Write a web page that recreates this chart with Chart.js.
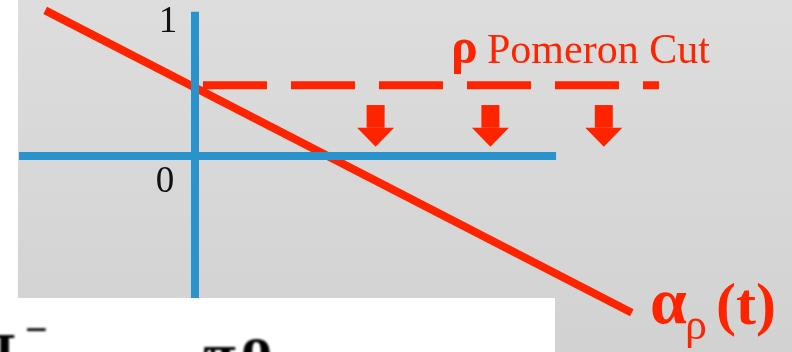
<!DOCTYPE html>
<html>
<head>
<meta charset="utf-8">
<script src="https://cdn.jsdelivr.net/npm/chart.js@4/dist/chart.umd.min.js"></script>
<style>
html,body{margin:0;padding:0;background:#ffffff;}
canvas{display:block;}
</style>
</head>
<body>
<canvas id="c" width="792" height="352"></canvas>
<script>
// ---- data (t horizontal, alpha vertical) ----
const rhoTrajectory = [{x:-1.07, y:1.04}, {x:3.12, y:-1.12}];   // alpha_rho(t)
const pomeronCut    = [{x:0.057, y:0.505}, {x:3.314, y:0.505}];  // rho-Pomeron cut level
const tAxis         = [{x:-1.257, y:0}, {x:2.579, y:0}];         // horizontal axis (alpha = 0)
const alphaAxis     = [{x:0, y:1.03}, {x:0, y:-1.02}];           // vertical axis (t = 0)
const arrowT        = [1.29, 2.11, 2.92];                        // arrow positions along t
const arrowTop      = 0.364;                                     // arrow tail (alpha)
const arrowTip      = 0.066;                                     // arrow tip (alpha)
const tickValues    = [1, 0];
const tickLabels    = ['1', '0'];

const RED = '#ff2400';
const BLUE = '#2b93cb';

const bgPlugin = {
  id: 'bg',
  beforeDraw(chart) {
    const ctx = chart.ctx;
    const W = chart.width, H = chart.height;
    ctx.save();
    ctx.fillStyle = '#ffffff';
    ctx.fillRect(0, 0, W, H);
    const g = ctx.createLinearGradient(0, 0, 0, H);
    g.addColorStop(0, '#dddddd');
    g.addColorStop(1, '#d2d2d2');
    ctx.fillStyle = g;
    ctx.fillRect(18, 0, W - 18, H);
    ctx.restore();
  }
};

const decoPlugin = {
  id: 'deco',
  afterDatasetsDraw(chart) {
    const ctx = chart.ctx;
    const xs = chart.scales.x, ys = chart.scales.y;
    ctx.save();
    // arrows
    ctx.fillStyle = RED;
    const yTop = ys.getPixelForValue(arrowTop);
    const yTip = ys.getPixelForValue(arrowTip);
    arrowT.forEach(t => {
      const cx = xs.getPixelForValue(t);
      const headH = 19;
      const yHead = yTip - headH;
      ctx.fillRect(cx - 9, yTop, 18, yHead - yTop);
      ctx.beginPath();
      ctx.moveTo(cx - 18.5, yHead);
      ctx.lineTo(cx + 18.5, yHead);
      ctx.lineTo(cx, yTip);
      ctx.closePath();
      ctx.fill();
    });
    // tick labels
    ctx.fillStyle = '#111111';
    ctx.font = '37px "Liberation Serif"';
    ctx.textAlign = 'center';
    ctx.textBaseline = 'alphabetic';
    const x0 = xs.getPixelForValue(0);
    ctx.fillText(tickLabels[0], x0 - 27, ys.getPixelForValue(tickValues[0]) + 16);
    ctx.fillText(tickLabels[1], x0 - 30, ys.getPixelForValue(tickValues[1]) + 36);
    // rho Pomeron Cut label
    ctx.textAlign = 'left';
    ctx.fillStyle = RED;
    ctx.font = 'bold 50px "Liberation Serif"';
    ctx.fillText('ρ', 451, 63);
    ctx.font = '42px "Liberation Serif"';
    ctx.fillText('Pomeron Cut', 487, 63);
    // alpha_rho(t) label
    ctx.font = 'bold 66px "Liberation Serif"';
    ctx.fillText('α', 650, 323);
    ctx.font = '44px "Liberation Serif"';
    ctx.fillText('ρ', 685, 339);
    ctx.font = 'bold 60px "Liberation Serif"';
    ctx.fillText('(t)', 716, 324);
    // white box at bottom
    ctx.fillStyle = '#ffffff';
    ctx.fillRect(0, 298, 555, 54);
    // cut-off black text fragments
    ctx.filter = 'blur(1px)';
    ctx.fillStyle = '#000000';
    ctx.font = 'bold 60px "Liberation Serif"';
    ctx.fillText('π', -18, 362);
    ctx.fillText('π', 203, 374);
    ctx.font = 'bold 62px "Liberation Serif"';
    ctx.fillText('o', 241, 368);
    ctx.font = 'bold 40px "Liberation Serif"';
    ctx.fillText('−', 25, 343);
    ctx.font = 'bold 60px "Liberation Serif"';
    ctx.fillText('ι', 384, 382);
    ctx.filter = 'none';
    ctx.restore();
  }
};

new Chart(document.getElementById('c'), {
  type: 'scatter',
  data: {
    datasets: [
      {data: tAxis, showLine: true, borderColor: BLUE, borderWidth: 8, pointRadius: 0, borderCapStyle: 'butt'},
      {data: alphaAxis, showLine: true, borderColor: BLUE, borderWidth: 8, pointRadius: 0, borderCapStyle: 'butt'},
      {data: pomeronCut, showLine: true, borderColor: RED, borderWidth: 8, pointRadius: 0, borderCapStyle: 'butt', borderDash: [64, 24]},
      {data: rhoTrajectory, showLine: true, borderColor: RED, borderWidth: 8, pointRadius: 0, borderCapStyle: 'butt'}
    ]
  },
  options: {
    responsive: false,
    animation: false,
    devicePixelRatio: 1,
    layout: {padding: 0},
    plugins: {legend: {display: false}, tooltip: {enabled: false}, title: {display: false}},
    scales: {
      x: {type: 'linear', display: false, min: -1.392857, max: 4.264286},
      y: {type: 'linear', display: false, min: -1.4, max: 1.114286}
    },
    elements: {line: {tension: 0}}
  },
  plugins: [bgPlugin, decoPlugin]
});
</script>
</body>
</html>
